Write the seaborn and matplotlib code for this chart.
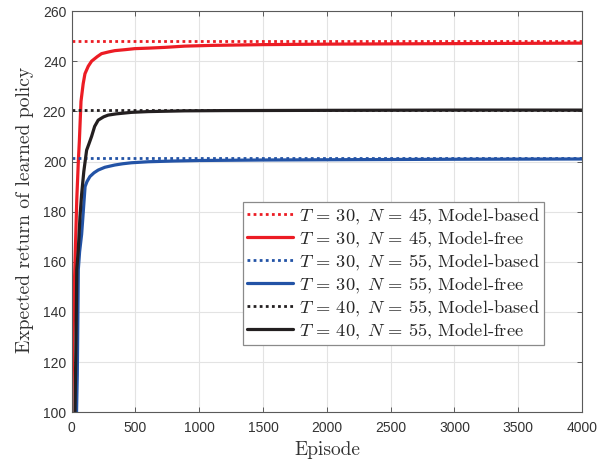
import numpy as np
import pandas as pd
import matplotlib
matplotlib.use('Agg')
import matplotlib.pyplot as plt
import seaborn as sns

sns.set_style('ticks')
plt.rcParams['font.family'] = ['Liberation Sans', 'DejaVu Sans']
plt.rcParams['mathtext.fontset'] = 'cm'

#%% data

episode_range = [0, 4000]

# model-based: constant expected return
mb_red = 248.0
mb_blue = 201.5
mb_black = 220.4

# model-free learning curves
red_ep = [0, 8, 15, 26, 40, 52, 60, 73, 90, 104, 130, 156, 200, 234, 290, 338,
          420, 494, 600, 729, 885, 1100, 1500, 2000, 2500, 3000, 3500, 4000]
red_val = [100, 125, 140, 160, 185, 200, 208, 224, 231, 235, 238, 240, 241.8, 243,
           243.7, 244.2, 244.6, 245, 245.2, 245.5, 246, 246.3, 246.6, 246.8, 246.9,
           247, 247.1, 247.2]

blue_ep = [38, 44, 52, 62, 78, 88, 95, 105, 120, 143, 175, 208, 260, 338, 400,
           469, 600, 800, 1000, 1500, 2000, 3000, 4000]
blue_val = [100, 115, 157, 164, 171, 178, 183, 190, 192, 194, 195.5, 196.6, 197.7,
            198.6, 199.1, 199.5, 199.9, 200.2, 200.4, 200.6, 200.7, 200.9, 201]

black_ep = [26, 34, 40, 52, 65, 78, 95, 117, 135, 156, 180, 208, 250, 286, 350,
            469, 600, 885, 1200, 2000, 3000, 4000]
black_val = [100, 130, 157, 165, 178, 187, 196, 204.5, 207, 210, 214, 216.5, 217.8,
             218.5, 219, 219.6, 219.9, 220.2, 220.3, 220.4, 220.5, 220.5]

labels = [r'$T\,=\,30,\;N\,=\,45$, Model-based', r'$T\,=\,30,\;N\,=\,45$, Model-free',
          r'$T\,=\,30,\;N\,=\,55$, Model-based', r'$T\,=\,30,\;N\,=\,55$, Model-free',
          r'$T\,=\,40,\;N\,=\,55$, Model-based', r'$T\,=\,40,\;N\,=\,55$, Model-free']

red = '#ec1c24'
blue = '#2353a6'
black = '#231f20'

#%% plot

fig = plt.figure(figsize=(6.07, 4.61), dpi=100)
ax = fig.add_axes([0.1181, 0.1056, 0.8407, 0.8705])

series = [
    (episode_range, [mb_red] * 2, red, ':', labels[0]),
    (red_ep, red_val, red, '-', labels[1]),
    (episode_range, [mb_blue] * 2, blue, ':', labels[2]),
    (blue_ep, blue_val, blue, '-', labels[3]),
    (episode_range, [mb_black] * 2, black, ':', labels[4]),
    (black_ep, black_val, black, '-', labels[5]),
]
for xs, ys, c, ls, lab in series:
    df = pd.DataFrame({'Episode': xs, 'Return': ys})
    if ls == ':':
        sns.lineplot(data=df, x='Episode', y='Return', ax=ax, color=c, lw=2.0,
                     ls=(0, (1, 1.2)), label=lab)
    else:
        sns.lineplot(data=df, x='Episode', y='Return', ax=ax, color=c, lw=2.3,
                     label=lab)

ax.set_xlim(0, 4000)
ax.set_ylim(100, 260)
ax.set_xticks(np.arange(0, 4001, 500))
ax.set_yticks(np.arange(100, 261, 20))

ax.grid(True, color='#e3e3e3', lw=0.8)
ax.set_axisbelow(True)
for sp in ax.spines.values():
    sp.set_visible(True)
    sp.set_color('#5a5a5a')
    sp.set_linewidth(0.8)
ax.tick_params(direction='in', top=True, right=True, length=3.5, width=0.7,
               color='#5a5a5a', labelsize=10, labelcolor='#333333')
ax.tick_params(axis='x', pad=6)
ax.tick_params(axis='y', pad=4)

ax.set_xlabel('Episode', family='cmr10', fontsize=13.5, color='#333333')
ax.set_ylabel('Expected return of learned policy', family='cmr10', fontsize=13,
              color='#333333')


def make_legend(size, spacing):
    leg = ax.legend(loc='center right', bbox_to_anchor=(0.925, 0.345),
                    prop={'family': 'cmr10', 'size': size}, frameon=True,
                    fancybox=False, framealpha=1, edgecolor='#8a8a8a',
                    handlelength=2.5, handletextpad=0.3, borderpad=0.22,
                    labelspacing=spacing, borderaxespad=0)
    leg.get_frame().set_linewidth(0.9)
    return leg


leg = make_legend(13, 0.1)

# scale label / legend text so their pixel sizes match the reference
fig.canvas.draw()
rend = fig.canvas.get_renderer()
yl = ax.yaxis.label
yl.set_fontsize(yl.get_fontsize() * 287 / yl.get_window_extent(rend).height)
xl = ax.xaxis.label
xl.set_fontsize(xl.get_fontsize() * 66 / xl.get_window_extent(rend).width)
ax.yaxis.set_label_coords(-0.074, 0.505)
ax.xaxis.set_label_coords(0.5, -0.072)

w = max(t.get_window_extent(rend).width for t in leg.get_texts())
size = 13 * 241 / w
leg = make_legend(size, 0.1)
fig.canvas.draw()
h = leg.get_window_extent(rend).height
spacing = 0.1 + (143 - h) / (5 * size * 100 / 72)
leg = make_legend(size, spacing)

fig.savefig('out.png', dpi=100)
